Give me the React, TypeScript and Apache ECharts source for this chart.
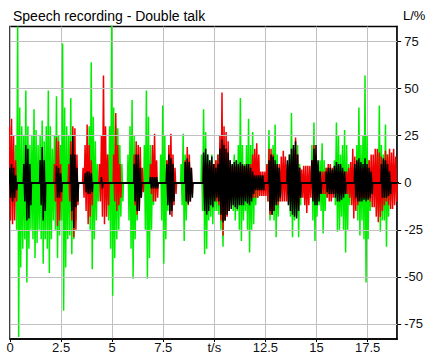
import React, { useEffect, useRef } from "react";
import * as echarts from "echarts";

// Envelope samples: [time s, upper %, lower %]
const greenEnvelope: [number, number, number][] = [
  [0.3, 20, -25], [0.4, 83, -82], [0.5, 40, -45], [0.6, 30, -35], [0.7, 25, -30], [0.8, 49, -53], [0.9, 30, -35],
  [1.0, 20, -25], [1.1, 25, -30], [1.2, 39, -40], [1.3, 28, -32], [1.4, 20, -25], [1.5, 25, -30], [1.6, 33, -43],
  [1.7, 22, -30], [1.8, 30, -35], [1.9, 49, -48], [2.0, 30, -30], [2.1, 18, -20], [2.2, 25, -25], [2.3, 46, -40],
  [2.4, 25, -28], [2.5, 20, -20], [2.6, 74, -68], [2.7, 40, -45], [2.8, 30, -30], [2.9, 25, -28], [3.0, 45, -38],
  [3.1, 25, -30], [3.2, 12, -20], [3.3, 6, -10],
  [3.9, 30, -25], [4.0, 64, -46], [4.1, 35, -30], [4.2, 22, -20], [4.3, 10, -10],
  [4.8, 15, -20], [4.9, 30, -35], [5.0, 84, -60], [5.1, 40, -40], [5.2, 30, -30], [5.3, 29, -25], [5.4, 20, -18], [5.5, 10, -10],
  [5.8, 15, -20], [5.9, 30, -35], [6.0, 44, -51], [6.1, 25, -30], [6.2, 15, -20], [6.3, 8, -8],
  [6.6, 20, -25], [6.7, 49, -51], [6.8, 35, -40], [6.9, 20, -25], [7.0, 10, -12],
  [7.4, 15, -20], [7.5, 41, -43], [7.6, 25, -30], [7.7, 12, -15],
  [8.4, 10, -12], [8.5, 26, -31], [8.6, 15, -20], [8.7, 8, -10],
  [9.4, 15, -15], [9.5, 39, -38], [9.6, 27, -35], [9.7, 15, -20], [9.8, 12, -18], [9.9, 15, -22], [10.0, 10, -15],
  [10.1, 12, -15], [10.2, 15, -17], [10.3, 12, -25], [10.4, 20, -34], [10.5, 15, -20], [10.6, 10, -15], [10.7, 12, -15],
  [10.8, 8, -12], [10.9, 10, -15], [11.0, 15, -20], [11.1, 12, -15], [11.2, 20, -25], [11.3, 45, -31], [11.4, 20, -20],
  [11.5, 10, -15], [11.6, 20, -25], [11.7, 34, -37], [11.8, 20, -25], [11.9, 27, -22], [12.0, 10, -12], [12.1, 5, -8],
  [12.6, 10, -10], [12.7, 28, -20], [12.8, 15, -15], [12.9, 20, -20], [13.0, 31, -29], [13.1, 15, -18], [13.2, 8, -10],
  [13.7, 15, -18], [13.8, 37, -29], [13.9, 20, -20], [14.0, 15, -18], [14.1, 20, -29], [14.2, 10, -12],
  [14.8, 20, -20], [14.9, 32, -31], [15.0, 15, -18], [15.1, 10, -12], [15.2, 12, -15], [15.3, 21, -27], [15.4, 12, -15], [15.5, 8, -8],
  [15.9, 12, -12], [16.0, 32, -26], [16.1, 25, -25], [16.2, 15, -18], [16.3, 20, -25], [16.4, 28, -37], [16.5, 20, -25], [16.6, 10, -12],
  [17.0, 20, -20], [17.1, 40, -28], [17.2, 20, -20], [17.3, 25, -30], [17.4, 57, -53], [17.5, 25, -30], [17.6, 12, -15],
  [18.0, 15, -15], [18.1, 41, -26], [18.2, 20, -20], [18.3, 15, -20], [18.4, 31, -34], [18.5, 15, -18], [18.6, 8, -10],
];

const redEnvelope: [number, number, number][] = [
  [0.0, 30, -20], [0.1, 34, -22], [0.2, 25, -20], [0.3, 12, -10],
  [2.2, 10, -10], [2.3, 24, -23], [2.4, 22, -20], [2.5, 10, -10],
  [2.9, 10, -10], [3.0, 22, -20], [3.1, 30, -29], [3.2, 29, -25], [3.3, 15, -12],
  [3.6, 8, -8], [3.7, 20, -15], [3.8, 31, -22], [3.9, 20, -18], [4.0, 12, -12],
  [4.4, 10, -10], [4.5, 25, -18], [4.6, 57, -22], [4.7, 30, -18], [4.8, 15, -12],
  [5.1, 15, -10], [5.2, 37, -15], [5.3, 20, -12], [5.4, 10, -8],
  [6.1, 15, -12], [6.2, 22, -17], [6.3, 20, -15], [6.4, 19, -8], [6.5, 8, -5],
  [6.9, 10, -6], [7.0, 20, -10], [7.1, 26, -10], [7.2, 12, -8],
  [7.7, 12, -10], [7.8, 20, -15], [7.9, 26, -18], [8.0, 15, -12], [8.1, 8, -6],
  [8.6, 12, -8], [8.7, 19, -12], [8.8, 15, -10], [8.9, 8, -6],
  [9.5, 10, -8], [9.6, 11, -8], [9.7, 10, -8], [9.8, 11, -8], [9.9, 10, -8], [10.0, 10, -8], [10.1, 12, -10],
  [10.2, 15, -12], [10.3, 25, -20], [10.4, 48, -28], [10.5, 30, -20], [10.6, 27, -18], [10.7, 22, -15], [10.8, 12, -10],
  [10.9, 9, -8], [11.0, 9, -8], [11.1, 9, -8], [11.2, 9, -8], [11.3, 8, -8], [11.4, 9, -8], [11.5, 9, -8], [11.6, 8, -7],
  [11.7, 9, -8], [11.8, 10, -8], [11.9, 15, -8], [12.0, 18, -8], [12.1, 21, -8], [12.2, 15, -7], [12.3, 6, -7],
  [12.4, 6, -7], [12.5, 6, -7], [12.6, 10, -10], [12.7, 18, -17], [12.8, 18, -17], [12.9, 15, -15], [13.0, 10, -10],
  [13.1, 9, -12], [13.2, 10, -10], [13.3, 14, -10], [13.4, 17, -10], [13.5, 14, -10], [13.6, 10, -10], [13.7, 10, -10],
  [13.8, 12, -10], [13.9, 18, -12], [14.0, 24, -14], [14.1, 15, -12], [14.2, 8, -8], [14.3, 7, -8], [14.4, 9, -12],
  [14.5, 9, -16], [14.6, 9, -12], [14.7, 9, -8], [14.8, 12, -8], [14.9, 20, -10], [15.0, 12, -8], [15.1, 6, -6],
  [15.2, 6, -6], [15.3, 6, -6], [15.4, 6, -6], [15.5, 8, -8], [15.6, 10, -10], [15.7, 10, -10], [15.8, 8, -8],
  [15.9, 8, -6], [16.0, 6, -6], [16.1, 6, -6], [16.2, 6, -6], [16.3, 6, -6], [16.4, 6, -6], [16.5, 6, -6], [16.6, 8, -8],
  [16.7, 11, -12], [16.8, 18, -19], [16.9, 14, -15], [17.0, 11, -12], [17.1, 8, -8], [17.2, 8, -8], [17.3, 8, -8],
  [17.4, 8, -8], [17.5, 8, -8], [17.6, 12, -10], [17.7, 15, -13], [17.8, 15, -13], [17.9, 18, -18], [18.0, 18, -21],
  [18.1, 16, -18], [18.2, 14, -15], [18.3, 12, -12], [18.4, 17, -10], [18.5, 15, -12], [18.6, 18, -14], [18.7, 16, -14],
  [18.8, 18, -12], [18.9, 14, -10],
];

const blackEnvelope: [number, number, number][] = [
  [0.0, 8, -8], [0.1, 10, -10], [0.2, 8, -8], [0.3, 4, -4],
  [0.7, 10, -10], [0.8, 20, -20], [0.9, 18, -19], [1.0, 10, -12],
  [1.5, 12, -12], [1.6, 19, -20], [1.7, 12, -15],
  [2.3, 9, -8], [2.4, 8, -8], [2.5, 5, -5],
  [3.0, 15, -15], [3.1, 25, -24], [3.2, 15, -13], [3.3, 8, -10],
  [3.7, 5, -5], [3.8, 6, -6], [3.9, 6, -6], [4.0, 5, -5],
  [4.5, 3, -3],
  [6.1, 10, -10], [6.2, 15, -15], [6.3, 15, -15], [6.4, 8, -8],
  [6.9, 3, -3], [7.0, 3, -3], [7.1, 3, -3], [7.2, 3, -3],
  [7.7, 10, -12], [7.8, 15, -17], [7.9, 13, -15], [8.0, 10, -10],
  [8.6, 11, -10], [8.7, 13, -11], [8.8, 11, -10], [8.9, 8, -8],
  [9.5, 16, -15], [9.6, 18, -17], [9.7, 15, -15], [9.8, 12, -12], [9.9, 14, -13], [10.0, 10, -10], [10.1, 8, -8],
  [10.2, 10, -10], [10.3, 18, -17], [10.4, 23, -21], [10.5, 20, -20], [10.6, 18, -17], [10.7, 16, -15], [10.8, 12, -14],
  [10.9, 10, -12], [11.0, 11, -13], [11.1, 12, -14], [11.2, 10, -12], [11.3, 11, -12], [11.4, 10, -12], [11.5, 9, -10],
  [11.6, 10, -11], [11.7, 10, -12], [11.8, 8, -10], [11.9, 6, -6], [12.0, 4, -4], [12.1, 4, -4], [12.2, 4, -4],
  [12.3, 4, -4], [12.4, 4, -4],
  [12.7, 12, -15], [12.8, 15, -17], [12.9, 14, -15], [13.0, 12, -12], [13.1, 10, -10], [13.2, 8, -8],
  [13.6, 12, -12], [13.7, 15, -15], [13.8, 18, -17], [13.9, 20, -18], [14.0, 22, -19], [14.1, 15, -15], [14.2, 8, -8],
  [14.8, 12, -10], [14.9, 18, -12], [15.0, 20, -12], [15.1, 12, -10], [15.2, 6, -6],
  [15.5, 6, -5], [15.6, 8, -6], [15.7, 8, -6], [15.8, 7, -6], [15.9, 9, -8], [16.0, 11, -10], [16.1, 10, -10],
  [16.2, 10, -9], [16.3, 8, -8], [16.4, 6, -6],
  [16.9, 10, -8], [17.0, 12, -10], [17.1, 13, -10], [17.2, 11, -10], [17.3, 10, -9], [17.4, 13, -10], [17.5, 10, -9],
  [17.6, 8, -8], [17.7, 6, -6],
  [18.2, 10, -8], [18.3, 13, -8], [18.4, 12, -8], [18.5, 10, -7], [18.6, 6, -6],
];

const xTicks = [0, 2.5, 5, 7.5, 10, 12.5, 15, 17.5];
const yTicks = [-75, -50, -25, 0, 25, 50, 75];
const xUnitAt = 10;
const titleText = "Speech recording - Double talk";
const yUnitText = "L/%";

const X_MIN = 0;
const X_MAX = 18.95;
const Y_MIN = -83;
const Y_MAX = 83;

// Draw each envelope sample as a zigzag stroke (upper then lower), baseline in gaps
function buildWave(env: [number, number, number][]) {
  const half = 0.025;
  const pts: number[][] = [[-0.2, 0]];
  for (let i = 0; i < env.length; i++) {
    const [t, hi, lo] = env[i];
    if (i === 0 || t - env[i - 1][0] > 0.15) pts.push([t - 2 * half, 0]);
    pts.push([t - half, hi], [t + half, lo]);
    if (i === env.length - 1 || env[i + 1][0] - t > 0.15) pts.push([t + 2 * half, 0]);
  }
  pts.push([X_MAX + 0.2, 0]);
  return pts;
}

const FONT = "'Liberation Sans', Arial, sans-serif";

export default function App() {
  const ref = useRef<HTMLDivElement>(null);
  useEffect(() => {
    if (!ref.current) return;
    const chart = echarts.init(ref.current, undefined, { renderer: "svg" });
    const waveStyle = (color: string) => ({
      type: "line" as const,
      showSymbol: false,
      symbol: "none",
      silent: true,
      clip: true,
      lineStyle: { color, width: 1.5 },
      emphasis: { disabled: true },
    });
    chart.setOption({
      animation: false,
      backgroundColor: "#ffffff",
      textStyle: { fontFamily: FONT },
      grid: {
        left: 10,
        right: 25,
        top: 26.5,
        bottom: 14.7,
        show: true,
        borderColor: "#000",
        borderWidth: 1.5,
        backgroundColor: "#ffffff",
      },
      graphic: [
        {
          type: "text",
          left: 13,
          top: 9,
          style: { text: titleText, font: `14px ${FONT}`, fill: "#000" },
        },
        {
          type: "text",
          left: 403,
          top: 9,
          style: { text: yUnitText, font: `13px ${FONT}`, fill: "#000" },
        },
      ],
      xAxis: {
        type: "value",
        min: X_MIN,
        max: X_MAX,
        interval: 2.5,
        position: "bottom",
        axisLine: { show: true, onZero: false, lineStyle: { color: "#000", width: 1.5 } },
        axisTick: { show: true, inside: false, length: 3, lineStyle: { color: "#000" } },
        axisLabel: {
          show: true,
          margin: 2,
          fontSize: 13,
          color: "#111",
          fontFamily: FONT,
          showMaxLabel: false,
          formatter: (v: number) => {
            if (!xTicks.some((t) => Math.abs(t - v) < 1e-6)) return "";
            return Math.abs(v - xUnitAt) < 1e-6 ? "t/s" : String(v);
          },
        },
        splitLine: { show: true, lineStyle: { color: "#c0c0c0", width: 1 } },
      },
      yAxis: {
        type: "value",
        min: Y_MIN,
        max: Y_MAX,
        position: "right",
        axisLine: { show: true, onZero: false, lineStyle: { color: "#000", width: 1.5 } },
        axisTick: {
          show: true,
          inside: false,
          length: 4,
          customValues: yTicks,
          lineStyle: { color: "#000" },
        },
        axisLabel: {
          show: true,
          margin: 7,
          fontSize: 13,
          color: "#111",
          fontFamily: FONT,
          customValues: yTicks,
        },
        splitLine: { show: false },
      },
      series: [
        {
          type: "line",
          data: [[0, 0]],
          showSymbol: false,
          symbol: "none",
          silent: true,
          z: 1,
          lineStyle: { opacity: 0 },
          markLine: {
            silent: true,
            symbol: ["none", "none"],
            label: { show: false },
            lineStyle: { color: "#c0c0c0", width: 1, type: "solid" },
            data: yTicks.map((v) => ({ yAxis: v })),
          },
        },
        { ...waveStyle("#00ee00"), name: "green", z: 2, data: buildWave(greenEnvelope) },
        { ...waveStyle("#f00000"), name: "red", z: 3, data: buildWave(redEnvelope) },
        {
          ...waveStyle("#000000"),
          name: "black",
          z: 4,
          data: buildWave(blackEnvelope),
          markLine: {
            silent: true,
            symbol: ["none", "none"],
            label: { show: false },
            lineStyle: { color: "#000", width: 1.8, type: "solid" },
            data: [{ yAxis: 0 }],
          },
        },
      ],
    });
    return () => chart.dispose();
  }, []);
  return (
    <div
      ref={ref}
      style={{ position: "fixed", left: 0, top: 0, width: 426, height: 354 }}
    />
  );
}
